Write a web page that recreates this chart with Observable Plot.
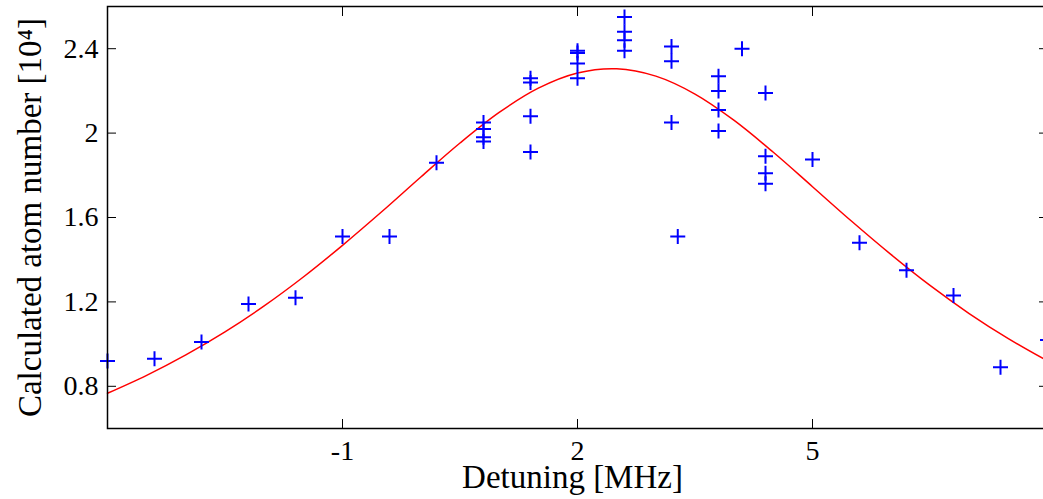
<!DOCTYPE html>
<html><head><meta charset="utf-8">
<script src="https://cdn.jsdelivr.net/npm/d3@7"></script>
<script src="https://cdn.jsdelivr.net/npm/@observablehq/plot@0.6"></script>
<style>
html,body{margin:0;padding:0;background:#fff;overflow:hidden;}
svg{max-width:none !important;}
</style></head><body><div id="chart"></div>
<script>
// Measured points: detuning [MHz] and calculated atom number [10^4]
const detuning = [-4, -3.4, -2.8, -2.2, -1.6, -1, -0.4, 0.2,
  0.8, 0.8, 0.8, 0.8,
  1.4, 1.4, 1.4, 1.4,
  2, 2, 2, 2,
  2.6, 2.6, 2.6, 2.6,
  3.2, 3.2, 3.2, 3.28,
  3.8, 3.8, 3.8, 3.8,
  4.1,
  4.4, 4.4, 4.4, 4.4,
  5, 5.6, 6.2, 6.8, 7.4, 8];
const atoms = [0.92, 0.93, 1.01, 1.19, 1.22, 1.51, 1.51, 1.86,
  2.05, 2.02, 1.98, 1.96,
  2.26, 2.24, 2.08, 1.91,
  2.39, 2.38, 2.33, 2.26,
  2.55, 2.48, 2.44, 2.39,
  2.41, 2.34, 2.05, 1.51,
  2.27, 2.20, 2.11, 2.01,
  2.40,
  2.19, 1.89, 1.81, 1.76,
  1.875, 1.48, 1.35, 1.23, 0.89, 1.02];
// Fit curve
const fitX = [-4, -3.5, -3, -2.5, -2, -1.5, -1, -0.5, 0, 0.5, 1, 1.5, 2, 2.5, 3, 3.5, 4, 4.5, 5, 5.5, 6, 6.5, 7, 7.5, 8];
const fitY = [0.767, 0.852, 0.949, 1.058, 1.181, 1.318, 1.468, 1.627, 1.792, 1.953, 2.098, 2.213, 2.285, 2.305, 2.270, 2.185, 2.060, 1.909, 1.746, 1.582, 1.425, 1.278, 1.145, 1.026, 0.920];
const xTicks = [-1, 2, 5];
const yTicks = [0.8, 1.2, 1.6, 2.0, 2.4];
const xLabel = "Detuning [MHz]";
const yLabel = "Calculated atom number [10\u2074]";

const points = detuning.map((x, i) => ({x, y: atoms[i]}));
const fit = fitX.map((x, i) => ({x, y: fitY[i]}));

const plusSymbol = {
  draw(ctx, size) {
    const r = Math.sqrt(size / Math.PI);
    ctx.moveTo(-r, 0); ctx.lineTo(r, 0);
    ctx.moveTo(0, -r); ctx.lineTo(0, r);
  }
};

const font = "'Liberation Serif', 'Times New Roman', serif";

const chart = Plot.plot({
  width: 1050,
  height: 499,
  marginTop: 6,
  marginBottom: 71,
  marginLeft: 107,
  marginRight: 3,
  style: {fontFamily: font, fontSize: "28px", background: "white", color: "black"},
  x: {domain: [-4, 8], axis: null},
  y: {domain: [0.6, 2.6], axis: null},
  marks: [
    Plot.line(fit, {x: "x", y: "y", stroke: "red", strokeWidth: 1.5, curve: "catmull-rom"}),
    Plot.dot(points, {x: "x", y: "y", symbol: plusSymbol, r: 7.5, fill: "none", stroke: "blue", strokeWidth: 2}),
    Plot.frame({stroke: "black", strokeWidth: 1.5}),
    Plot.axisX(xTicks, {anchor: "bottom", tickSize: -9, tickFormat: () => "", label: null, stroke: "black"}),
    Plot.axisX(xTicks, {anchor: "top", tickSize: -9, tickFormat: () => "", label: null, stroke: "black"}),
    Plot.axisY(yTicks, {anchor: "left", tickSize: -9, tickFormat: () => "", label: null, stroke: "black"}),
    Plot.axisY(yTicks, {anchor: "right", tickSize: -9, tickFormat: () => "", label: null, stroke: "black"}),
    Plot.axisX(xTicks, {anchor: "bottom", tickSize: 0, tickPadding: 12, label: null, fontSize: 28, tickFormat: d => String(d)}),
    Plot.axisY(yTicks, {anchor: "left", tickSize: 0, tickPadding: 9, label: null, fontSize: 28, tickFormat: d => String(+d.toFixed(1))}),
    Plot.text([xLabel], {frameAnchor: "bottom", dx: -5, dy: 49, lineAnchor: "middle", textAnchor: "middle", text: d => d, fontSize: 33, fill: "black"}),
    Plot.text([yLabel], {frameAnchor: "left", dx: -77, lineAnchor: "middle", textAnchor: "middle", rotate: -90, text: d => d, fontSize: 33, fill: "black"})
  ]
});
document.getElementById("chart").appendChild(chart);
</script>
</body></html>
